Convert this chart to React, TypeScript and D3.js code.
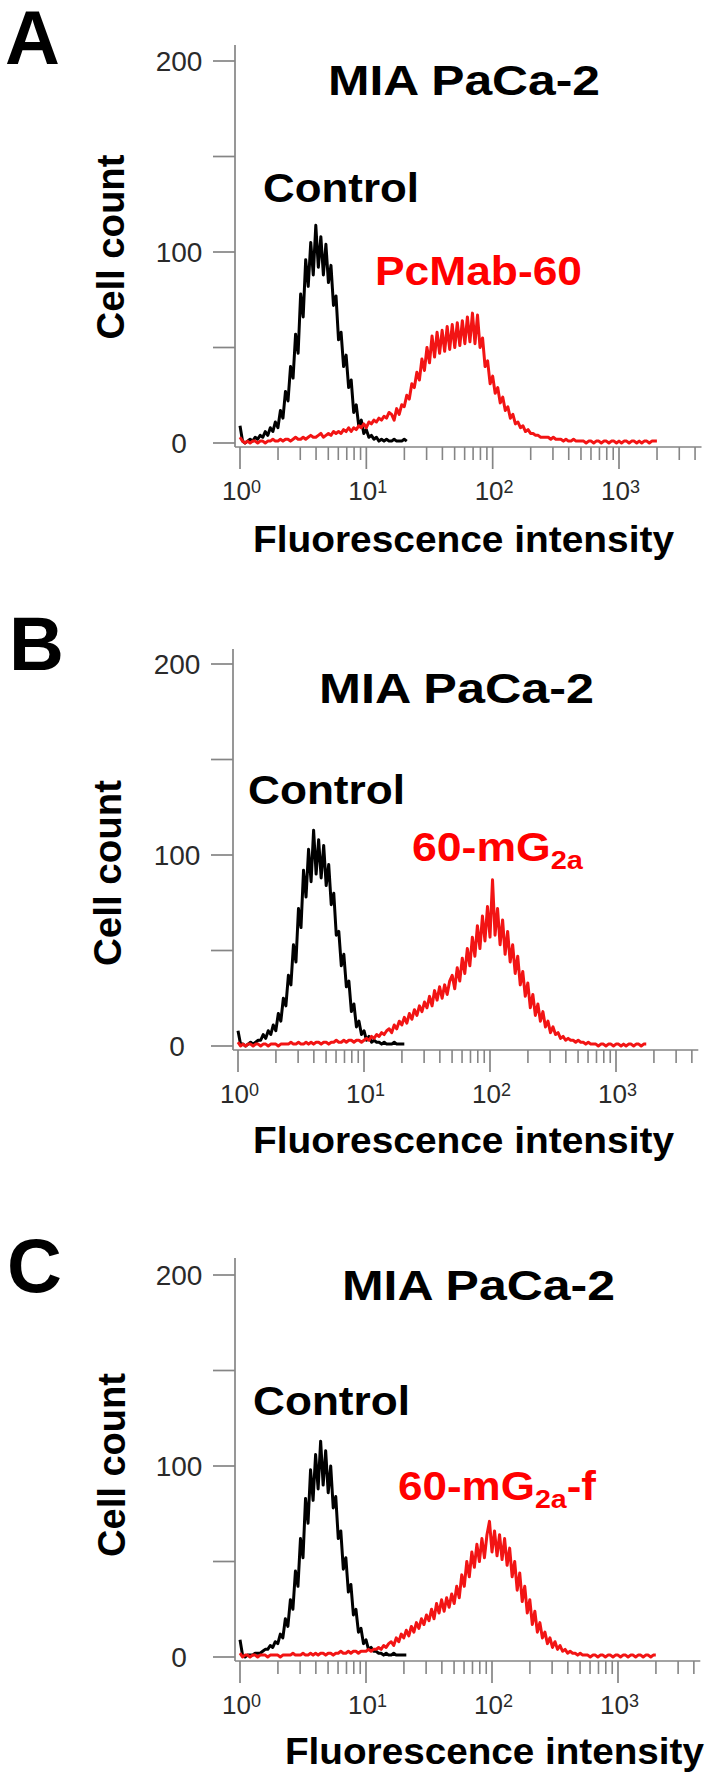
import React from 'react';
import * as d3 from 'd3';

// width of one histogram channel, in decades of fluorescence
const BIN_STEP = 0.02;

const panelLetters = ['A', 'B', 'C'];
const cellLineTitle = 'MIA PaCa-2';
const controlLabel = 'Control';
const yAxisTitle = 'Cell count';
const xAxisTitle = 'Fluorescence intensity';

const yTicks = [0, 50, 100, 150, 200];
const yTickLabels = ['0', '', '100', '', '200'];
const xDecadeExponents = [0, 1, 2, 3];
const xMinorMultipliers = [2, 3, 4, 5, 6, 7, 8, 9];
const xAxisMax = 4500;
const xLastTick = 4000;

// label parts for the treated antibody in each panel
const antibodyA = [{ t: 'PcMab-60', sub: false }];
const antibodyB = [{ t: '60-mG', sub: false }, { t: '2a', sub: true }];
const antibodyC = [{ t: '60-mG', sub: false }, { t: '2a', sub: true }, { t: '-f', sub: false }];

// cell counts per channel (channel i sits at 10^(i*BIN_STEP))
const controlA = [9, 1, 0, 1, 2, 1, 3, 2, 4, 3, 6, 4, 8, 6, 11, 8, 17, 13, 27, 22, 40, 34, 57, 47, 78, 66, 96, 82, 105, 88, 114, 92, 108, 88, 104, 84, 93, 72, 77, 54, 58, 40, 46, 29, 33, 16, 20, 9, 12, 5, 7, 3, 4, 2, 3, 1, 2, 1, 2, 1, 1, 2, 1, 1, 1, 2, 1];
const pcmab60A = [3, 1, 0, 1, 0, 1, 1, 0, 1, 1, 0, 1, 1, 2, 1, 1, 2, 1, 2, 2, 1, 2, 3, 2, 2, 3, 2, 3, 4, 3, 3, 4, 5, 3, 4, 5, 4, 6, 5, 6, 5, 7, 6, 8, 6, 8, 7, 9, 8, 10, 8, 11, 10, 12, 11, 13, 12, 14, 13, 16, 15, 12, 18, 15, 20, 19, 25, 23, 31, 29, 37, 33, 44, 38, 50, 42, 56, 45, 58, 47, 59, 48, 61, 49, 62, 50, 63, 51, 64, 52, 66, 53, 68, 52, 67, 50, 55, 40, 43, 31, 35, 26, 29, 21, 24, 17, 19, 13, 15, 10, 11, 8, 9, 6, 7, 5, 5, 4, 4, 3, 3, 3, 3, 2, 3, 2, 2, 2, 1, 2, 1, 1, 2, 1, 1, 1, 1, 0, 1, 1, 0, 1, 1, 0, 1, 1, 0, 1, 1, 0, 1, 0, 1, 1, 0, 1, 1, 0, 1, 0, 1, 1, 0, 1, 1, 1];
const controlB = [8, 1, 1, 0, 1, 2, 1, 2, 3, 3, 6, 4, 8, 6, 11, 8, 17, 13, 25, 21, 37, 32, 53, 44, 72, 62, 92, 78, 103, 86, 113, 90, 108, 88, 105, 84, 95, 74, 80, 58, 60, 42, 48, 31, 34, 18, 22, 10, 13, 6, 8, 3, 5, 2, 3, 2, 2, 1, 2, 1, 1, 1, 2, 1, 1, 1, 1];
const mg2aB = [2, 0, 1, 0, 1, 1, 0, 1, 1, 0, 1, 1, 0, 1, 1, 1, 0, 1, 1, 1, 1, 2, 1, 1, 2, 1, 1, 2, 1, 2, 1, 2, 2, 1, 2, 2, 1, 2, 2, 3, 2, 2, 3, 2, 3, 3, 2, 3, 3, 2, 3, 4, 3, 5, 4, 6, 5, 7, 6, 8, 9, 7, 11, 9, 13, 11, 15, 12, 17, 14, 19, 16, 21, 18, 23, 20, 26, 21, 29, 24, 31, 25, 32, 27, 34, 37, 30, 41, 34, 46, 38, 51, 42, 57, 47, 63, 51, 68, 55, 73, 57, 87, 58, 72, 53, 66, 48, 60, 44, 53, 38, 47, 32, 39, 26, 33, 20, 27, 16, 22, 13, 18, 10, 13, 7, 10, 6, 7, 4, 5, 3, 4, 3, 3, 2, 3, 2, 2, 1, 2, 1, 1, 1, 0, 1, 1, 0, 1, 1, 0, 1, 1, 0, 1, 0, 1, 1, 0, 1, 1, 0, 1, 1];
const controlC = [9, 1, 0, 1, 1, 1, 2, 2, 2, 3, 4, 4, 6, 5, 8, 7, 12, 10, 20, 16, 30, 25, 45, 37, 62, 52, 83, 70, 98, 82, 106, 88, 113, 90, 108, 86, 100, 78, 84, 62, 66, 46, 52, 34, 38, 22, 25, 13, 15, 7, 9, 4, 5, 3, 3, 2, 2, 1, 2, 1, 1, 2, 1, 1, 1, 1, 1];
const mg2afC = [2, 0, 1, 1, 0, 1, 1, 0, 1, 1, 1, 0, 1, 1, 1, 1, 0, 1, 1, 1, 1, 2, 1, 1, 1, 2, 1, 1, 2, 1, 2, 1, 2, 2, 1, 2, 2, 1, 2, 2, 3, 2, 2, 3, 2, 3, 3, 2, 3, 3, 3, 4, 3, 4, 4, 5, 4, 6, 5, 7, 8, 6, 10, 8, 12, 10, 14, 11, 16, 13, 18, 15, 20, 17, 22, 19, 25, 20, 28, 23, 30, 24, 31, 26, 33, 28, 37, 31, 43, 37, 50, 42, 55, 47, 59, 50, 62, 52, 64, 71, 55, 66, 53, 64, 51, 62, 48, 57, 42, 50, 35, 44, 29, 37, 23, 30, 17, 24, 13, 18, 10, 13, 7, 10, 5, 8, 4, 6, 3, 4, 2, 3, 2, 2, 1, 2, 1, 1, 1, 0, 1, 1, 0, 1, 1, 0, 1, 1, 0, 1, 1, 0, 1, 1, 0, 1, 1, 0, 1, 1, 0, 1, 1, 0, 1, 1];

const panelControls = [controlA, controlB, controlC];
const panelTreated = [pcmab60A, mg2aB, mg2afC];
const panelAntibodies = [antibodyA, antibodyB, antibodyC];

// layout (pixel placement) of each panel
const layouts = [
  {
    axisX: 235, axisTop: 45, y0: 443, y200: 61, x0: 240, x3: 619,
    letter: { x: 5, y: 64 },
    title: { x: 328, y: 95, w: 272 },
    control: { x: 263, y: 202, w: 156 },
    treated: { x: 375, y: 285, w: 207 },
    xTitle: { x: 253, y: 552, w: 421 },
    yTitle: { x: 124, cy: 247, len: 185 },
  },
  {
    axisX: 233, axisTop: 649, y0: 1046, y200: 664, x0: 238, x3: 616,
    letter: { x: 9, y: 670 },
    title: { x: 319, y: 703, w: 275 },
    control: { x: 248, y: 804, w: 157 },
    treated: { x: 412, y: 861, w: 171 },
    xTitle: { x: 253, y: 1153, w: 421 },
    yTitle: { x: 121, cy: 873, len: 186 },
  },
  {
    axisX: 235, axisTop: 1258, y0: 1657, y200: 1275, x0: 240, x3: 618,
    letter: { x: 7, y: 1292 },
    title: { x: 342, y: 1300, w: 273 },
    control: { x: 253, y: 1415, w: 157 },
    treated: { x: 398, y: 1500, w: 198 },
    xTitle: { x: 285, y: 1764, w: 419 },
    yTitle: { x: 125, cy: 1465, len: 184 },
  },
];

const BOLD = "'Liberation Sans', Arial, Helvetica, sans-serif";
const AXIS_COLOR = '#858585';
const TICK_TEXT = '#2a2a2a';
const RED = '#ff0000';
const RED_LINE = '#f21414';

function Panel({ idx }: { idx: number }) {
  const L = layouts[idx];
  const x = d3.scaleLog().domain([1, 1000]).range([L.x0, L.x3]);
  const y = d3.scaleLinear().domain([0, 200]).range([L.y0, L.y200]);
  const line = d3
    .line<number>()
    .x((_, i) => x(Math.pow(10, i * BIN_STEP)))
    .y((d) => y(d));
  const xAxisY = L.y0 + 4;
  const xEnd = x(xAxisMax);
  const majors = xDecadeExponents.map((e) => Math.pow(10, e));
  const minors = xDecadeExponents
    .flatMap((e) => xMinorMultipliers.map((m) => m * Math.pow(10, e)))
    .filter((v) => v <= xLastTick);
  const ab = panelAntibodies[idx];

  return (
    <g>
      <text x={L.letter.x} y={L.letter.y} fontFamily={BOLD} fontWeight="bold" fontSize={76} fill="#000">
        {panelLetters[idx]}
      </text>

      {/* axes */}
      <line x1={L.axisX} x2={L.axisX} y1={L.axisTop} y2={xAxisY} stroke={AXIS_COLOR} strokeWidth={1.7} />
      <line x1={L.axisX} x2={xEnd} y1={xAxisY} y2={xAxisY} stroke={AXIS_COLOR} strokeWidth={1.7} />
      {yTicks.map((t, i) => (
        <g key={'yt' + t}>
          <line x1={L.axisX - 22} x2={L.axisX} y1={y(t)} y2={y(t)} stroke={AXIS_COLOR} strokeWidth={1.7} />
          {yTickLabels[i] && (
            <text x={L.axisX - 56} y={y(t) + 10} textAnchor="middle" fontFamily={BOLD} fontSize={28} fill={TICK_TEXT}>
              {yTickLabels[i]}
            </text>
          )}
        </g>
      ))}
      {majors.map((v) => (
        <line key={'xM' + v} x1={x(v)} x2={x(v)} y1={xAxisY} y2={xAxisY + 22} stroke={AXIS_COLOR} strokeWidth={1.7} />
      ))}
      {minors.map((v) => (
        <line key={'xm' + v} x1={x(v)} x2={x(v)} y1={xAxisY} y2={xAxisY + 13} stroke={AXIS_COLOR} strokeWidth={1.6} />
      ))}
      {xDecadeExponents.map((e) => (
        <text key={'xl' + e} x={x(Math.pow(10, e)) - 18} y={xAxisY + 53} fontFamily={BOLD} fontSize={26} fill={TICK_TEXT}>
          10
          <tspan fontSize={18} dy={-7}>{e}</tspan>
        </text>
      ))}

      {/* histograms */}
      <path d={line(panelControls[idx]) || ''} fill="none" stroke="#000" strokeWidth={3} strokeLinejoin="round" />
      <path d={line(panelTreated[idx]) || ''} fill="none" stroke={RED_LINE} strokeWidth={3} strokeLinejoin="round" />

      {/* labels */}
      <text x={L.title.x} y={L.title.y} fontFamily={BOLD} fontWeight="bold" fontSize={42} fill="#000"
        textLength={L.title.w} lengthAdjust="spacingAndGlyphs">
        {cellLineTitle}
      </text>
      <text x={L.control.x} y={L.control.y} fontFamily={BOLD} fontWeight="bold" fontSize={40} fill="#000"
        textLength={L.control.w} lengthAdjust="spacingAndGlyphs">
        {controlLabel}
      </text>
      <text x={L.treated.x} y={L.treated.y} fontFamily={BOLD} fontWeight="bold" fontSize={40} fill={RED}
        textLength={L.treated.w} lengthAdjust="spacingAndGlyphs">
        {ab.map((p, i) => {
          const prevSub = i > 0 && ab[i - 1].sub;
          const dy = p.sub ? 8 : prevSub ? -8 : 0;
          return (
            <tspan key={i} fontSize={p.sub ? 26 : 40} dy={dy}>
              {p.t}
            </tspan>
          );
        })}
      </text>
      <text x={L.xTitle.x} y={L.xTitle.y} fontFamily={BOLD} fontWeight="bold" fontSize={36} fill="#000"
        textLength={L.xTitle.w} lengthAdjust="spacingAndGlyphs">
        {xAxisTitle}
      </text>
      <text transform={`translate(${L.yTitle.x},${L.yTitle.cy}) rotate(-90)`} textAnchor="middle"
        fontFamily={BOLD} fontWeight="bold" fontSize={38} fill="#000"
        textLength={L.yTitle.len} lengthAdjust="spacingAndGlyphs">
        {yAxisTitle}
      </text>
    </g>
  );
}

export default function App() {
  return (
    <div style={{ position: 'absolute', left: 0, top: 0 }}>
      <svg width={714} height={1788} viewBox="0 0 714 1788" style={{ display: 'block', background: '#fff' }}>
        <rect x={0} y={0} width={714} height={1788} fill="#fff" />
        {layouts.map((_, i) => (
          <Panel key={i} idx={i} />
        ))}
      </svg>
    </div>
  );
}
